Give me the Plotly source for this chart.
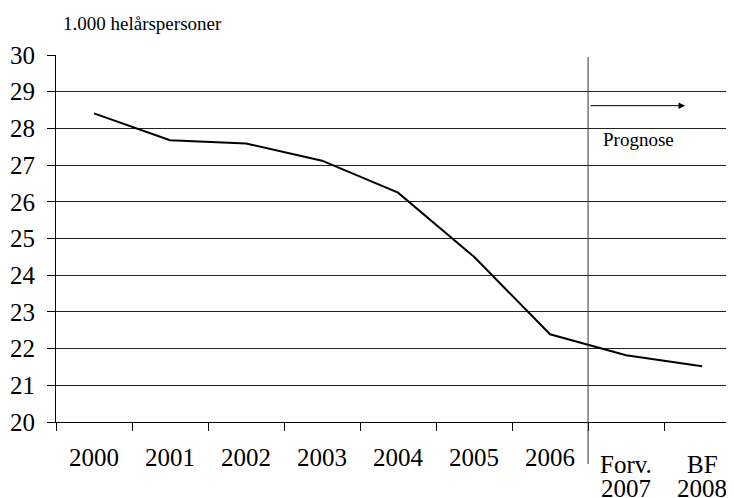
import plotly.graph_objects as go

categories = ["2000", "2001", "2002", "2003", "2004", "2005", "2006", "Forv. 2007", "BF 2008"]
tick_first = ["2000", "2001", "2002", "2003", "2004", "2005", "2006", "", ""]
split_labels = [("Forv.", "2007"), ("BF", "2008")]
values = [28.41, 27.68, 27.59, 27.12, 26.25, 24.5, 22.39, 21.82, 21.52]
y_ticks = list(range(20, 31))

font = "Liberation Serif"

fig = go.Figure()
fig.add_trace(go.Scatter(
    x=categories, y=values, mode="lines",
    line=dict(color="black", width=2), hoverinfo="skip", showlegend=False,
))

fig.update_layout(
    width=726, height=490,
    margin=dict(l=48, r=0, t=47, b=76),
    paper_bgcolor="white", plot_bgcolor="white",
    font=dict(family=font, color="black", size=25),
    xaxis=dict(
        type="category",
        range=[-0.5, 8.42],
        tickmode="array",
        tickvals=categories,
        ticktext=tick_first,
        tickson="boundaries",
        showgrid=False,
        showline=True, linecolor="black", linewidth=1,
        ticks="outside", ticklen=8, tickcolor="black", tickwidth=1,
        tickfont=dict(size=25, family=font, color="black"),
        ticklabelstandoff=13,
        zeroline=False,
    ),
    yaxis=dict(
        range=[20, 30],
        tickvals=y_ticks,
        showgrid=True, gridcolor="#222222", gridwidth=1,
        showline=True, linecolor="black", linewidth=1,
        ticks="outside", ticklen=8, tickcolor="black",
        tickfont=dict(size=25, family=font, color="black"),
        ticklabelstandoff=7,
        zeroline=False,
    ),
)

# split two-line category labels (tight line spacing)
for i, (l1, l2) in enumerate(split_labels):
    idx = 7 + i
    fig.add_annotation(x=idx, y=-0.117, xref="x", yref="paper", text=l1, showarrow=False,
                       yanchor="middle", borderpad=0, font=dict(size=25, family=font, color="black"))
    fig.add_annotation(x=idx, y=-0.180, xref="x", yref="paper", text=l2, showarrow=False,
                       yanchor="middle", borderpad=0, font=dict(size=25, family=font, color="black"))

# forecast divider line
fig.add_shape(type="line", xref="x", yref="paper", x0=6.5, x1=6.5, y0=-0.1144, y1=0.9946,
              line=dict(color="#333333", width=1))

# arrow
fig.add_annotation(x=7.776, y=28.62, ax=6.513, ay=28.62, xref="x", yref="y", axref="x", ayref="y",
                   showarrow=True, arrowhead=2, arrowsize=1.3, arrowwidth=1, arrowcolor="black", text="")
fig.add_annotation(x=7.17, y=27.71, xref="x", yref="y", text="Prognose", showarrow=False,
                   font=dict(size=19, family=font, color="black"))

fig.add_annotation(x=0.007, y=1.087, xref="paper", yref="paper", text="1.000 helårspersoner",
                   showarrow=False, xanchor="left", yanchor="middle",
                   font=dict(size=19, family=font, color="black"))

fig.write_html("out.html")
